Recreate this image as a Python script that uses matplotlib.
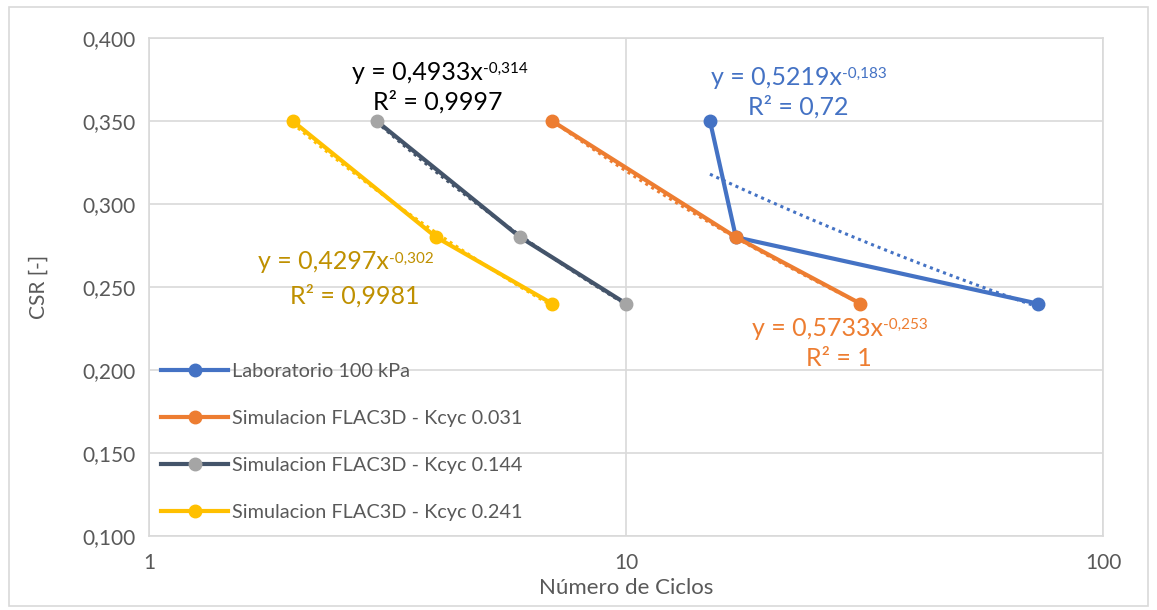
import numpy as np
import matplotlib
matplotlib.use("Agg")
import matplotlib.pyplot as plt
from matplotlib.patches import Rectangle
from matplotlib.ticker import FuncFormatter, FixedLocator, NullLocator

plt.rcParams['font.family'] = ['Lato', 'DejaVu Sans']

# Data
series_names = [
    "Laboratorio 100 kPa",
    "Simulacion FLAC3D - Kcyc 0.031",
    "Simulacion FLAC3D - Kcyc 0.144",
    "Simulacion FLAC3D - Kcyc 0.241",
]
lab_ciclos = [15, 17, 73]
lab_csr = [0.35, 0.28, 0.24]
k031_ciclos = [7, 17, 31]
k031_csr = [0.35, 0.28, 0.24]
k144_ciclos = [3, 6, 10]
k144_csr = [0.35, 0.28, 0.24]
k241_ciclos = [2, 4, 7]
k241_csr = [0.35, 0.28, 0.24]

# equation labels as shown on the chart (text, exponent, R²)
eq_main = ["y = 0,5219x", "y = 0,5733x", "y = 0,4933x", "y = 0,4297x"]
eq_exp = ["-0,183", "-0,253", "-0,314", "-0,302"]
eq_r2 = ["R² = 0,72", "R² = 1", "R² = 0,9997", "R² = 0,9981"]

line_colors = ["#4472C4", "#ED7D31", "#44546A", "#FFC000"]
marker_colors = ["#4472C4", "#ED7D31", "#A5A5A5", "#FFC000"]
label_colors = ["#4472C4", "#ED7D31", "#000000", "#BF9000"]
# equation start (left) and R² centre, data coords
eq_pos = [(15.07, 0.3765), (18.37, 0.2253), (2.665, 0.3795), (1.692, 0.2651)]
r2_pos = [(22.94, 0.3584), (27.96, 0.2072), (4.036, 0.3614), (2.703, 0.2446)]

xs = [lab_ciclos, k031_ciclos, k144_ciclos, k241_ciclos]
ys = [lab_csr, k031_csr, k144_csr, k241_csr]

fig = plt.figure(figsize=(11.57, 6.10), dpi=100)
fig.patches.append(Rectangle((0.008, 0.006), 0.984, 0.982, transform=fig.transFigure,
                             fill=False, edgecolor="#D9D9D9", linewidth=1.2))
ax = fig.add_axes([0.1288, 0.1213, 0.8245, 0.8164])

for i in range(4):
    x = np.array(xs[i], dtype=float)
    y = np.array(ys[i], dtype=float)
    # power trend line fitted on the data
    b, a = np.polyfit(np.log(x), np.log(y), 1)
    xt = np.geomspace(x.min(), x.max(), 100)
    ax.plot(xt, np.exp(a) * xt ** b, linestyle=(0, (1, 1.3)), color=line_colors[i],
            linewidth=2.2, zorder=2)
    ax.plot(x, y, color=line_colors[i], linewidth=3, marker="o", markersize=9,
            markerfacecolor=marker_colors[i], markeredgecolor=marker_colors[i],
            label=series_names[i], zorder=3)

for i in range(4):
    t = ax.text(eq_pos[i][0], eq_pos[i][1], eq_main[i], color=label_colors[i], fontsize=18,
                ha="left", va="center", zorder=5)
    ax.annotate(eq_exp[i], xy=(1, 0.93), xycoords=t, color=label_colors[i], fontsize=11,
                ha="left", va="top", zorder=5)
    ax.text(r2_pos[i][0], r2_pos[i][1], eq_r2[i], color=label_colors[i], fontsize=18,
            ha="center", va="center", zorder=5)

ax.set_xscale("log")
ax.set_xlim(1, 100)
ax.set_ylim(0.1, 0.4)
ax.xaxis.set_major_locator(FixedLocator([1, 10, 100]))
ax.xaxis.set_minor_locator(NullLocator())
ax.xaxis.set_major_formatter(FuncFormatter(lambda v, p: f"{v:g}"))
ax.set_yticks(np.arange(0.1, 0.401, 0.05))
ax.yaxis.set_major_formatter(FuncFormatter(lambda v, p: f"{v:.3f}".replace(".", ",")))
ax.grid(True, color="#D9D9D9", linewidth=1.2)
ax.set_axisbelow(True)
for s in ax.spines.values():
    s.set_color("#D9D9D9")
    s.set_linewidth(1.2)
ax.tick_params(length=0, labelsize=15, colors="#595959", pad=10)
ax.tick_params(axis="x", pad=12)
ax.set_xlabel("Número de Ciclos", fontsize=16, color="#595959", labelpad=4)
ax.set_ylabel("CSR [-]", fontsize=15, color="#595959", labelpad=24)

leg = ax.legend(loc="upper left", bbox_to_anchor=(0.0125, 0.348), frameon=False, fontsize=14.3,
                handlelength=3.4, labelspacing=1.52, handletextpad=0.2, borderaxespad=0,
                borderpad=0, labelcolor="#595959")

fig.savefig("out.png", dpi=100)
